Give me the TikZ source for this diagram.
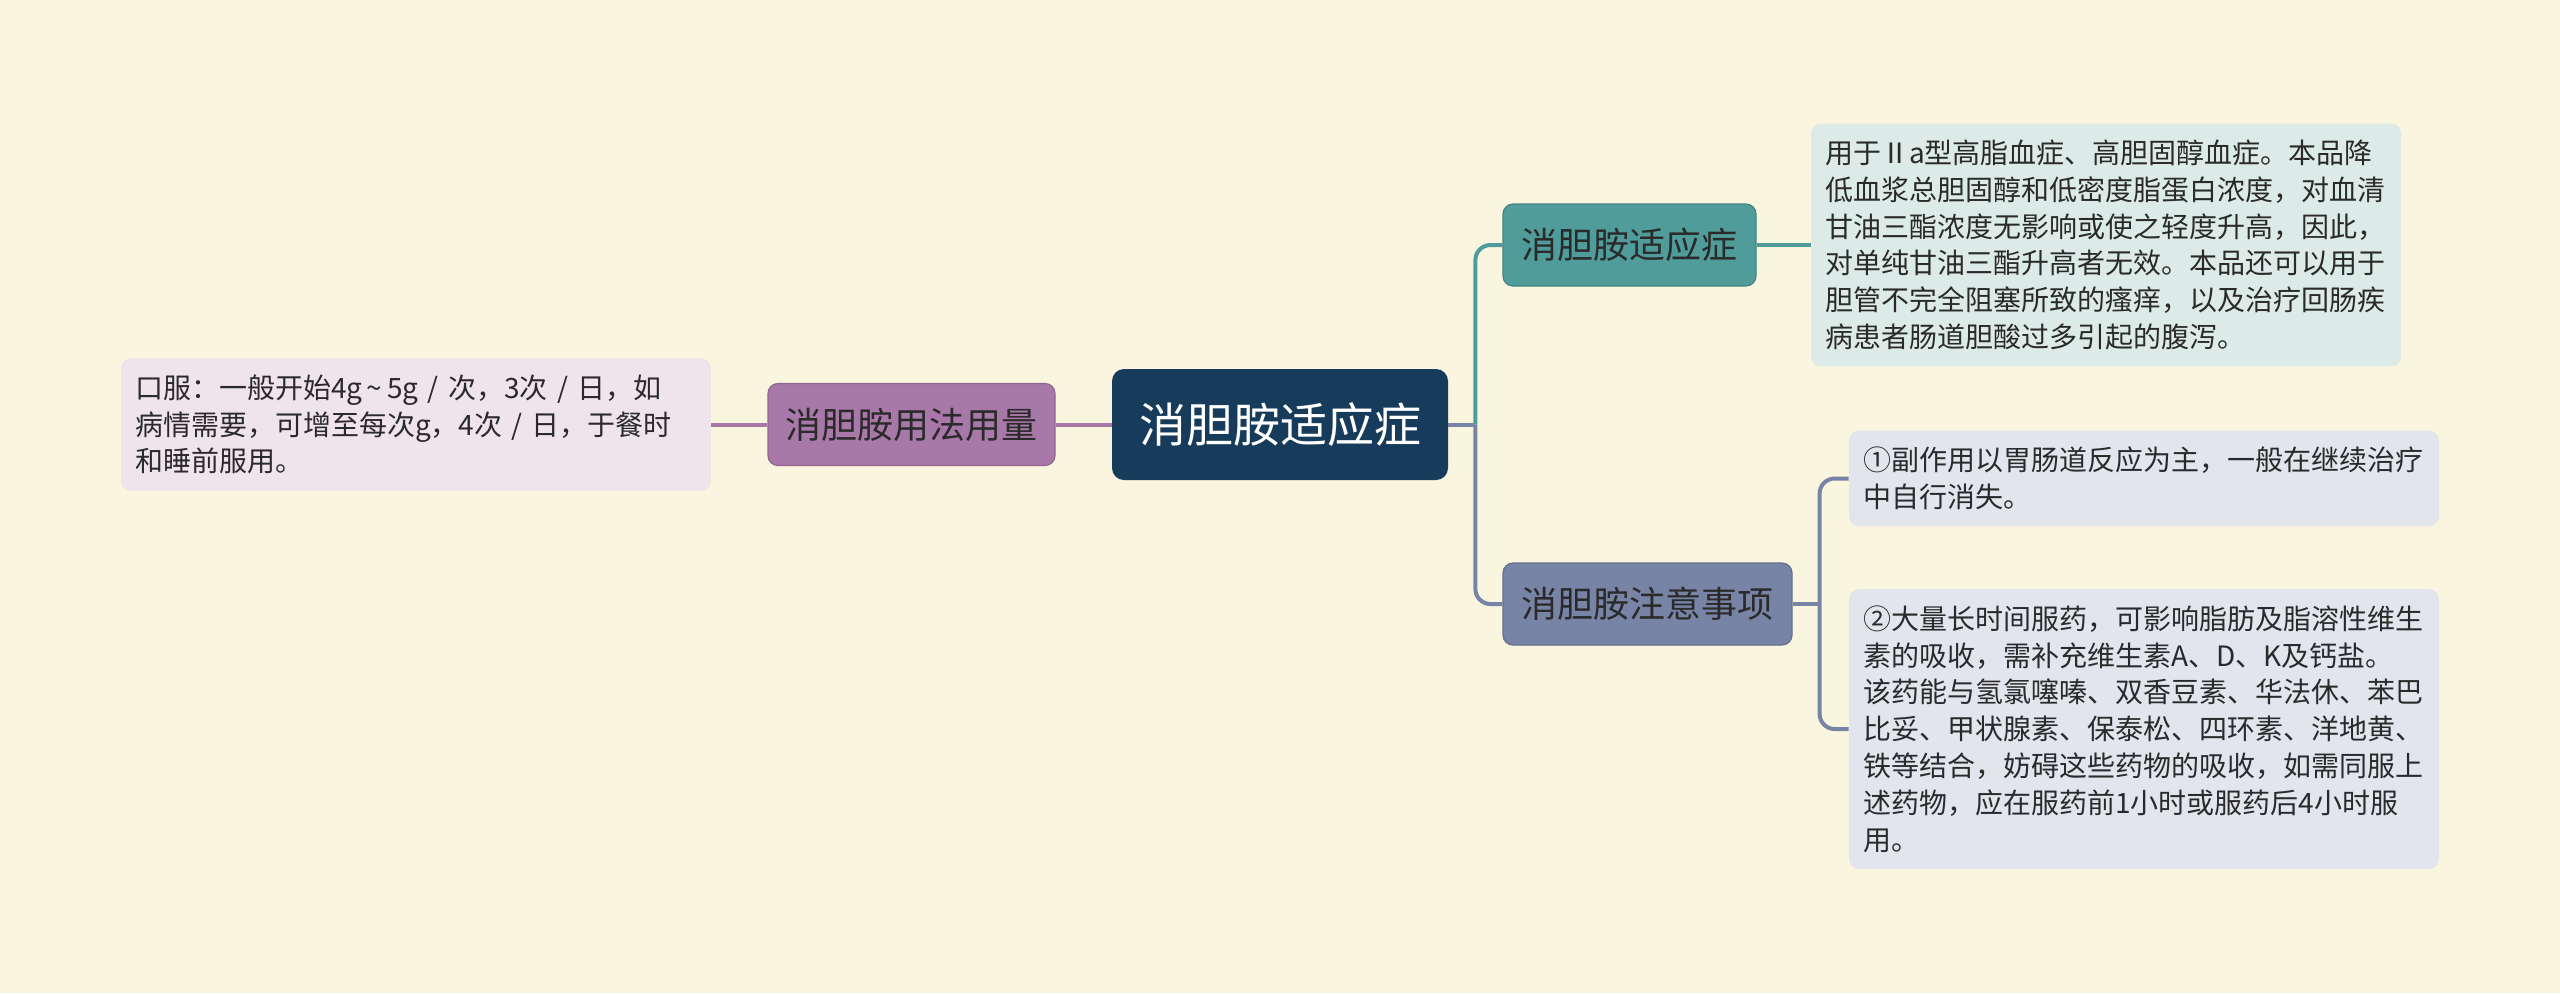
\documentclass[tikz,border=0pt]{standalone}
\usepackage{fontspec}
\setmainfont{Noto Sans CJK SC}
\usetikzlibrary{positioning}
\definecolor{cream}{HTML}{FAF5DF}
\definecolor{navy}{HTML}{173C5B}
\definecolor{tealg}{HTML}{4F9C9A}
\definecolor{tealpale}{HTML}{DCEBE7}
\definecolor{slate}{HTML}{7884A5}
\definecolor{slatepale}{HTML}{E2E5EC}
\definecolor{mauve}{HTML}{A878A8}
\definecolor{mauvepale}{HTML}{EFE3EC}
\definecolor{ink}{HTML}{2A2A2A}

\begin{document}
\begin{tikzpicture}[node distance=27pt,
 hubbox/.style={fill=navy,text=white,rounded corners=6pt,minimum width=168pt,minimum height=55.5pt,font=\fontsize{23.5}{28}\selectfont},
 topicbox/.style={rounded corners=5pt,minimum height=41pt,inner xsep=0pt,text=ink,line width=0.6pt,font=\fontsize{18}{22}\selectfont},
 notebox/.style={rounded corners=5pt,text width=281pt,inner xsep=7pt,inner ysep=8.2pt,align=left,text=ink,font=\fontsize{14}{18.4}\selectfont},
 wire/.style={line width=2pt,rounded corners=7.5pt}]
\fill[cream] (0,0) rectangle (1280pt,-496.5pt);
\node[hubbox] (main) at (640pt,-212.25pt) {消胆胺适应症};
\node[topicbox,fill=mauve,draw=mauve!85!black,minimum width=143.5pt,left=28pt of main] (usage) {消胆胺用法用量};
\node[notebox,fill=mauvepale,left=28pt of usage] (usagetxt) {口服：一般开始4g{\,}\textasciitilde{\,}5g / 次，3次 / 日，如\\病情需要，可增至每次g，4次 / 日，于餐时\\和睡前服用。};
\node[topicbox,fill=tealg,draw=tealg!85!black,minimum width=126.5pt,right=27pt of main,yshift=89.75pt] (indic) {消胆胺适应症};
\node[notebox,fill=tealpale,right=27pt of indic] (indictxt) {用于Ⅱa型高脂血症、高胆固醇血症。本品降\\低血浆总胆固醇和低密度脂蛋白浓度，对血清\\甘油三酯浓度无影响或使之轻度升高，因此，\\对单纯甘油三酯升高者无效。本品还可以用于\\胆管不完全阻塞所致的瘙痒，以及治疗回肠疾\\病患者肠道胆酸过多引起的腹泻。};
\node[topicbox,fill=slate,draw=slate!85!black,minimum width=144.5pt,right=27pt of main,yshift=-89.75pt] (caution) {消胆胺注意事项};
\node[notebox,fill=slatepale,right=28pt of caution,yshift=62.75pt] (caution1) {①副作用以胃肠道反应为主，一般在继续治疗\\中自行消失。};
\node[notebox,fill=slatepale,right=28pt of caution,yshift=-62.5pt] (caution2) {②大量长时间服药，可影响脂肪及脂溶性维生\\素的吸收，需补充维生素A、D、K及钙盐。\\该药能与氢氯噻嗪、双香豆素、华法休、苯巴\\比妥、甲状腺素、保泰松、四环素、洋地黄、\\铁等结合，妨碍这些药物的吸收，如需同服上\\述药物，应在服药前1小时或服药后4小时服\\用。};
\coordinate (fork) at ([xshift=13.5pt]main.east);
\coordinate (fork2) at ([xshift=13.5pt]caution.east);
\draw[wire,mauve] (main.west) -- (usage.east);
\draw[wire,mauve] (usage.west) -- (usagetxt.east);
\draw[wire,slate] (main.east) -- (fork);
\draw[wire,tealg] (fork) |- (indic.west);
\draw[wire,slate] (fork) |- (caution.west);
\draw[wire,tealg] (indic.east) -- (indictxt.west);
\draw[wire,slate] (caution.east) -- (fork2);
\draw[wire,slate] (fork2) |- (caution1.west);
\draw[wire,slate] (fork2) |- (caution2.west);
\end{tikzpicture}
\end{document}
